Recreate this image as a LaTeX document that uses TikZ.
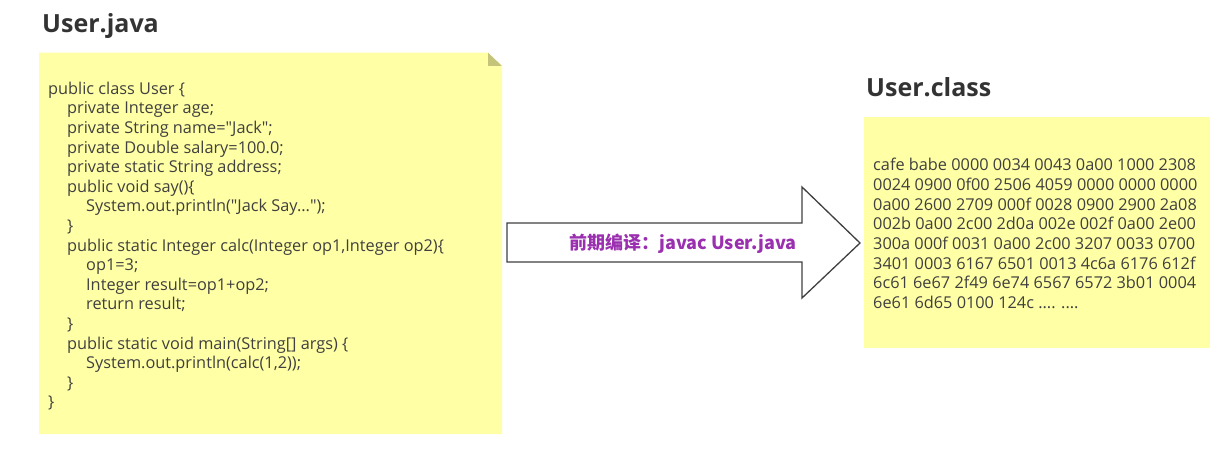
\documentclass[tikz,border=0pt]{standalone}
\usepackage{fontspec}
\setmainfont{Open Sans}
\newfontfamily\osans{Open Sans}
\newfontfamily\cjk{Noto Sans CJK SC}
\newcommand\dq{\symbol{34}}
\definecolor{noteyellow}{RGB}{255,255,165}
\definecolor{earcol}{RGB}{196,196,122}
\definecolor{txt}{RGB}{64,64,64}
\definecolor{ttl}{RGB}{51,51,51}
\definecolor{lbl}{RGB}{154,47,176}
\tikzset{
  codeline/.style={anchor=base west, inner sep=0pt, text=txt, font=\osans\fontsize{16.3}{19}\selectfont},
  hexline/.style={anchor=base west, inner sep=0pt, text=txt, font=\osans\fontsize{16.3}{19}\selectfont},
  titletext/.style={anchor=base west, inner sep=0pt, text=ttl, font=\fontsize{25}{30}\selectfont\bfseries},
}
\begin{document}
\begin{tikzpicture}[x=1pt,y=-1pt]
\useasboundingbox (0,0) rectangle (1220,473);
% left note with dog-ear
\fill[noteyellow] (39,52.7) -- (488,52.7) -- (502,66) -- (502,434) -- (39,434) -- cycle;
\fill[earcol] (488,52.7) -- (488,66) -- (502,66) -- cycle;
% right box
\fill[noteyellow] (864,117) rectangle (1210,348);
% titles
\node[titletext] (t1) at (42,33) {User.java};
\node[titletext] (t2) at (866,97) {User.class};
% code lines
\foreach \i/\ind/\s in {
 1/0/{public class User \{},
 2/1/{private Integer age;},
 3/1/{private String name=\dq Jack\dq;},
 4/1/{private Double salary=100.0;},
 5/1/{private static String address;},
 6/1/{public void say()\{},
 7/2/{System.out.println(\dq Jack Say...\dq);},
 8/1/{\}},
 9/1/{public static Integer calc(Integer op1,Integer op2)\{},
 10/2/{op1=3;},
 11/2/{Integer result=op1+op2;},
 12/2/{return result;},
 13/1/{\}},
 14/1/{public static void main(String[] args) \{},
 15/2/{System.out.println(calc(1,2));},
 16/1/{\}},
 17/0/{\}}}
 {\node[codeline] (c\i) at ({48+19*\ind}, {94.3+19.6*(\i-1)}) {\s};}
% hex lines
\foreach \i/\s in {
 1/{cafe babe 0000 0034 0043 0a00 1000 2308},
 2/{0024 0900 0f00 2506 4059 0000 0000 0000},
 3/{0a00 2600 2709 000f 0028 0900 2900 2a08},
 4/{002b 0a00 2c00 2d0a 002e 002f 0a00 2e00},
 5/{300a 000f 0031 0a00 2c00 3207 0033 0700},
 6/{3401 0003 6167 6501 0013 4c6a 6176 612f},
 7/{6c61 6e67 2f49 6e74 6567 6572 3b01 0004},
 8/{6e61 6d65 0100 124c .... ....}}
 {\node[hexline] (h\i) at (873, {170.7+19.7*(\i-1)}) {\s};}
% arrow
\coordinate (a1) at (507,223);
\coordinate (a2) at (802,223);
\coordinate (a3) at (802,187);
\coordinate (a4) at (860,243);
\coordinate (a5) at (802,298);
\coordinate (a6) at (802,262);
\coordinate (a7) at (507,262);
\draw[draw=txt, line width=1.3pt, fill=white, line join=miter] (a1) -- (a2) -- (a3) -- (a4) -- (a5) -- (a6) -- (a7) -- cycle;
\node[inner sep=0pt, text=lbl, font=\cjk\bfseries\fontsize{18}{22}\selectfont, anchor=center] (lab) at (683,244) {前期编译：javac User.java};
\end{tikzpicture}
\end{document}
